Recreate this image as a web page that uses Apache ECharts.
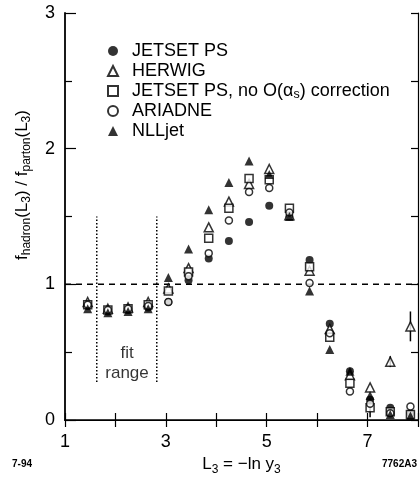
<!DOCTYPE html>
<html>
<head>
<meta charset="utf-8">
<title>hadron / parton ratio</title>
<script src="https://cdn.jsdelivr.net/npm/echarts@6/dist/echarts.min.js"></script>
<style>
  html, body { margin: 0; padding: 0; background: #fff; }
  #chart { width: 420px; height: 479px; }
</style>
</head>
<body>
<div id="chart"></div>
<script>
// L3 bin centres
const binCenters = [1.45, 1.85, 2.25, 2.65, 3.05, 3.45, 3.85, 4.25, 4.65, 5.05, 5.45, 5.85, 6.25, 6.65, 7.05, 7.45, 7.85];

// f_hadron / f_parton per model
const jetsetPs = [0.84, 0.80, 0.81, 0.83, 0.87, 1.03, 1.19, 1.32, 1.46, 1.58, 1.50, 1.18, 0.71, 0.36, 0.15, 0.09, 0.05];
const herwig   = [0.87, 0.82, 0.83, 0.87, 0.97, 1.12, 1.42, 1.61, 1.74, 1.85, 1.51, 1.10, 0.67, 0.33, 0.24, 0.43, 0.69];
const jetsetNoCorr = [0.85, 0.81, 0.82, 0.85, 0.95, 1.09, 1.34, 1.56, 1.78, 1.77, 1.56, 1.13, 0.61, 0.27, 0.09, 0.06, 0.04];
const ariadne  = [0.85, 0.81, 0.82, 0.84, 0.87, 1.06, 1.23, 1.47, 1.68, 1.71, 1.53, 1.01, 0.64, 0.21, 0.12, 0.05, 0.10];
const nllJet   = [0.82, 0.79, 0.80, 0.82, 1.05, 1.26, 1.55, 1.75, 1.91, 1.81, 1.50, 0.95, 0.52, 0.36, 0.18, 0.04, 0.03];

// visible error bars (0 = too small to see)
const herwigErr    = [0, 0, 0, 0, 0, 0, 0, 0, 0, 0, 0, 0, 0, 0, 0, 0.04, 0.11];
const noCorrErr    = [0, 0, 0, 0, 0, 0, 0, 0, 0, 0, 0, 0, 0, 0, 0.07, 0, 0];

const seriesNames = ['JETSET PS', 'HERWIG', 'JETSET PS, no O(\u03b1s) correction', 'ARIADNE', 'NLLjet'];

// reference line at 1 and the fit range
const unityX = [1, 8];
const fitRangeX = [1.63, 2.82];
const fitRangeY = [0.28, 1.5];
const fitLabelPos = [2.23, 0.42];

const xLabelValues = [1, 3, 5, 7];
const yLabelValues = [0, 1, 2, 3];

const FONT = "'Liberation Sans', Arial, Helvetica, sans-serif";

function pairs(ys) {
    return binCenters.map((x, i) => [x, ys[i]]);
}

function errorData(ys, errs) {
    const out = [];
    errs.forEach((e, i) => {
        if (e > 0) out.push([binCenters[i], ys[i] - e, ys[i] + e]);
    });
    return out;
}

function renderErrorBar(params, api) {
    const lo = api.coord([api.value(0), api.value(1)]);
    const hi = api.coord([api.value(0), api.value(2)]);
    return {
        type: 'line',
        shape: {x1: lo[0], y1: lo[1], x2: hi[0], y2: hi[1]},
        style: {stroke: '#000', lineWidth: 1.5},
    };
}

const filled = {color: '#000'};
const hollow = {color: '#fff', borderColor: '#000', borderWidth: 1.5};

const subRich = {
    n: {fontSize: 17, fontFamily: FONT, color: '#000', lineHeight: 22, verticalAlign: 'middle'},
    s: {fontSize: 12, fontFamily: FONT, color: '#000', lineHeight: 12, verticalAlign: 'bottom'},
};

// legend uses the same styles, shifted right so text starts where the figure's does
const legendRich = {
    n: Object.assign({}, subRich.n, {fontSize: 18, lineHeight: 20}),
    s: Object.assign({}, subRich.s, {fontSize: 12.5}),
    p: {width: 9},
};

function frameAxis(extra) {
    return Object.assign({
        type: 'value',
        axisLine: {show: true, lineStyle: {color: '#000', width: 1.2}},
        axisTick: {show: true, inside: true, length: 7, lineStyle: {color: '#000', width: 1.2}},
        axisLabel: {show: false},
        splitLine: {show: false},
    }, extra);
}

const option = {
    animation: false,
    backgroundColor: '#fff',
    textStyle: {fontFamily: FONT, color: '#000'},
    grid: {left: 65, right: 2, top: 13, bottom: 59, outerBoundsMode: 'none'},
    xAxis: [
        frameAxis({
            min: 1, max: 8, interval: 1,
            axisLine: {show: true, lineStyle: {color: '#000', width: 1.5}},
            axisLabel: {
                show: true, fontSize: 18, fontFamily: FONT, color: '#000', margin: 13,
                formatter: (v) => xLabelValues.includes(v) ? String(v) : '',
            },
            name: '{n|L}{s|3}{n| = \u2212ln y}{s|3}',
            nameLocation: 'middle',
            nameGap: 31,
            nameTextStyle: {rich: subRich},
        }),
        frameAxis({min: 1, max: 8, interval: 1, position: 'top'}),
    ],
    yAxis: [
        frameAxis({
            min: 0, max: 3, interval: 1,
            axisLine: {show: true, lineStyle: {color: '#000', width: 1.8}},
            axisTick: {show: true, inside: true, length: 11, lineStyle: {color: '#000', width: 1.2}},
            minorTick: {show: true, splitNumber: 2, length: 7, lineStyle: {color: '#000', width: 1.2}},
            axisLabel: {
                show: true, fontSize: 18, fontFamily: FONT, color: '#000', margin: 10,
                formatter: (v) => yLabelValues.includes(v) ? String(v) : '',
            },
        }),
        frameAxis({
            min: 0, max: 3, interval: 0.5, position: 'right',
        }),
    ],
    legend: {
        data: seriesNames,
        orient: 'vertical',
        left: 102,
        top: 36,
        itemWidth: 10,
        itemHeight: 10,
        itemGap: 0,
        textStyle: {fontSize: 18, fontFamily: FONT, color: '#000', lineHeight: 20, rich: legendRich},
        formatter: (name) => name === seriesNames[2]
            ? '{p|}{n|JETSET PS, no O(\u03b1}{s|s}{n|) correction}'
            : '{p|}{n|' + name + '}',
    },
    graphic: [
        {
            type: 'text', x: 22, y: 185, rotation: Math.PI / 2,
            style: {
                text: '{n|f}{s|hadron}{n|(L}{s|3}{n|) / f}{s|parton}{n|(L}{s|3}{n|)}',
                rich: subRich, align: 'center', verticalAlign: 'middle',
            },
        },
        {type: 'text', left: 12, top: 459, style: {text: '7-94', font: 'bold 10px ' + FONT, fill: '#000'}},
        {type: 'text', right: 3, top: 459, style: {text: '7762A3', font: 'bold 10px ' + FONT, fill: '#000'}},
    ],
    series: [
        {
            type: 'line', data: unityX.map((x) => [x, 1]), symbol: 'none', silent: true,
            lineStyle: {color: '#000', width: 1.5, type: [6, 5]},
        },
        {
            type: 'line', data: fitRangeY.map((y) => [fitRangeX[0], y]), symbol: 'none', silent: true,
            lineStyle: {color: '#000', width: 1.5, type: [1.5, 2]},
        },
        {
            type: 'line', data: fitRangeY.map((y) => [fitRangeX[1], y]), symbol: 'none', silent: true,
            lineStyle: {color: '#000', width: 1.5, type: [1.5, 2]},
        },
        {
            type: 'scatter', data: [fitLabelPos], symbolSize: 0, silent: true,
            label: {show: true, position: 'inside', formatter: 'fit\nrange', fontSize: 17, lineHeight: 20, fontFamily: FONT, color: '#000'},
        },
        {type: 'custom', renderItem: renderErrorBar, data: errorData(herwig, herwigErr), silent: true, z: 1},
        {type: 'custom', renderItem: renderErrorBar, data: errorData(jetsetNoCorr, noCorrErr), silent: true, z: 1},
        {name: seriesNames[0], type: 'scatter', symbol: 'circle', symbolSize: 8, itemStyle: filled, data: pairs(jetsetPs), z: 3},
        {name: seriesNames[1], type: 'scatter', symbol: 'triangle', symbolSize: 9, itemStyle: hollow, data: pairs(herwig), z: 3},
        {name: seriesNames[2], type: 'scatter', symbol: 'rect', symbolSize: 8, itemStyle: hollow, data: pairs(jetsetNoCorr), z: 3},
        {name: seriesNames[3], type: 'scatter', symbol: 'circle', symbolSize: 7, itemStyle: hollow, data: pairs(ariadne), z: 3},
        {name: seriesNames[4], type: 'scatter', symbol: 'triangle', symbolSize: 9, itemStyle: filled, data: pairs(nllJet), z: 3},
    ],
};

const chart = echarts.init(document.getElementById('chart'));
chart.setOption(option);
window.addEventListener('resize', () => chart.resize());
</script>
</body>
</html>
